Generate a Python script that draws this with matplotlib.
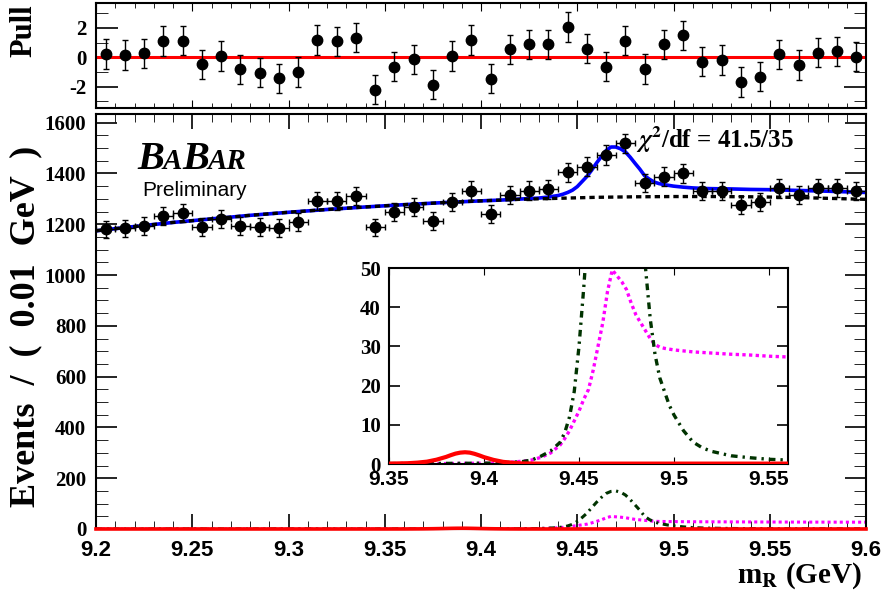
import numpy as np
import matplotlib
matplotlib.use("Agg")
import matplotlib.pyplot as plt
from matplotlib.ticker import MultipleLocator, FuncFormatter

plt.rcParams['axes.unicode_minus'] = False
plt.rcParams['mathtext.fontset'] = 'stix'
plt.rcParams['font.family'] = ['Liberation Serif', 'DejaVu Serif']
plt.rcParams['font.weight'] = 'bold'

# ---- data ----
bin_centers = np.round(np.arange(9.205, 9.6, 0.01), 3)
bin_half = 0.005

events = [1180, 1184, 1194, 1232, 1243, 1190, 1220, 1193, 1190, 1186,
          1208, 1291, 1292, 1311, 1188, 1247, 1269, 1214, 1288, 1332,
          1239, 1315, 1332, 1337, 1404, 1426, 1472, 1518, 1362, 1387,
          1400, 1330, 1330, 1275, 1288, 1341, 1315, 1343, 1343, 1330]

pulls = [0.23, 0.16, 0.27, 1.10, 1.13, -0.47, 0.09, -0.81, -1.04, -1.42,
         -0.99, 1.17, 1.08, 1.35, -2.20, -0.63, -0.13, -1.85, 0.09, 1.17,
         -1.46, 0.54, 0.88, 0.88, 2.07, 0.59, -0.63, 1.13, -0.79, 0.88,
         1.49, -0.29, -0.18, -1.67, -1.31, 0.20, -0.52, 0.32, 0.41, 0.05]

# background (black dashed)
bkg_x = [9.20, 9.22, 9.24, 9.26, 9.28, 9.30, 9.32, 9.34, 9.36, 9.38, 9.40,
         9.42, 9.44, 9.46, 9.48, 9.50, 9.52, 9.54, 9.56, 9.58, 9.60]
bkg_y = [1174, 1191, 1207, 1221, 1235, 1247, 1258, 1268, 1277, 1285, 1292,
         1298, 1302, 1306, 1308, 1309, 1309, 1308, 1306, 1302, 1298]

# total fit (blue)
fit_x = [9.20, 9.22, 9.24, 9.26, 9.28, 9.30, 9.32, 9.34, 9.36, 9.38, 9.40,
         9.41, 9.42, 9.425, 9.43, 9.435, 9.44, 9.4425, 9.445, 9.4475, 9.45,
         9.4525, 9.455, 9.4575, 9.46, 9.4625, 9.465, 9.4675, 9.47, 9.4725,
         9.475, 9.4775, 9.48, 9.4825, 9.485, 9.4875, 9.49, 9.4925, 9.495,
         9.4975, 9.50, 9.505, 9.51, 9.515, 9.52, 9.53, 9.54, 9.55, 9.56,
         9.58, 9.60]
fit_y = [1174, 1191, 1207, 1221, 1235, 1247, 1258, 1268, 1277, 1285, 1292,
         1295, 1299, 1301, 1303, 1307, 1313, 1318, 1325, 1334, 1348,
         1368, 1388, 1413, 1441, 1466, 1490, 1504, 1504, 1497,
         1485, 1464, 1440, 1417, 1391, 1377, 1366, 1360, 1356,
         1353, 1350, 1346, 1343, 1341, 1340, 1339, 1337, 1336, 1334,
         1330, 1325]

# dark green dash-dot component
green_x = [9.20, 9.30, 9.38, 9.40, 9.41, 9.42, 9.425, 9.43, 9.435, 9.44,
           9.4425, 9.445, 9.4475, 9.45, 9.4525, 9.455, 9.4575, 9.46, 9.4625,
           9.465, 9.4675, 9.47, 9.4725, 9.475, 9.4775, 9.48, 9.4825, 9.485,
           9.4875, 9.49, 9.4925, 9.495, 9.4975, 9.50, 9.505, 9.51, 9.515,
           9.52, 9.53, 9.54, 9.55, 9.56, 9.60]
green_y = [0.0, 0.05, 0.15, 0.2, 0.35, 0.6, 1.0, 2.0, 3.3, 5.5,
           8.0, 12.0, 18.5, 30.0, 45.0, 62.0, 84.0, 105.0, 124.0,
           140.0, 148.0, 150.0, 145.0, 134.0, 116.0, 95.0, 74.0, 50.0,
           37.0, 28.0, 22.0, 18.5, 15.0, 12.5, 8.5, 5.6, 4.1,
           3.2, 2.1, 1.6, 1.2, 1.0, 0.6]

# magenta dotted component
mag_x = [9.20, 9.30, 9.38, 9.40, 9.41, 9.42, 9.425, 9.43, 9.435, 9.44,
         9.4425, 9.445, 9.4475, 9.45, 9.4525, 9.455, 9.4575, 9.46, 9.4625,
         9.465, 9.4675, 9.47, 9.4725, 9.475, 9.4775, 9.48, 9.4825, 9.485,
         9.4875, 9.49, 9.4925, 9.495, 9.50, 9.51, 9.52, 9.53, 9.54, 9.55,
         9.56, 9.60]
mag_y = [0.0, 0.05, 0.1, 0.2, 0.3, 0.7, 1.0, 1.7, 2.8, 4.8,
         6.5, 8.5, 11.0, 13.5, 16.5, 19.0, 24.0, 30.0, 36.0,
         44.0, 49.5, 48.0, 46.5, 44.5, 41.0, 38.0, 36.0, 34.0,
         32.0, 30.5, 29.8, 29.5, 29.1, 28.6, 28.3, 28.0, 27.8, 27.5,
         27.3, 26.8]

# red solid component
red_x = [9.20, 9.35, 9.36, 9.365, 9.37, 9.375, 9.38, 9.3825, 9.385, 9.3875,
         9.39, 9.3925, 9.395, 9.3975, 9.40, 9.405, 9.41, 9.415, 9.42, 9.43,
         9.60]
red_y = [0.1, 0.1, 0.2, 0.35, 0.6, 1.1, 1.8, 2.25, 2.65, 2.9,
         3.0, 2.9, 2.6, 2.2, 1.75, 1.05, 0.55, 0.3, 0.15, 0.1,
         0.1]

W, H = 883, 600
fig = plt.figure(figsize=(W / 100, H / 100), dpi=100)


def px(x):
    return x / W


def py(y):
    return 1 - y / H


GREEN = '#003300'
MAGENTA = '#ff00ff'
fmt = FuncFormatter(lambda v, _: f"{v:g}")

# ---- pull panel ----
axp = fig.add_axes([px(96), py(108), px(866) - px(96), py(3) - py(108)])
axp.errorbar(bin_centers, pulls, yerr=1.0, fmt='o', color='black', ms=7.5,
             elinewidth=1, capsize=2.5, capthick=1, zorder=3)
axp.axhline(0, color='red', lw=2.2, zorder=2)
axp.set_xlim(9.2, 9.6)
axp.set_ylim(-3.45, 3.7)
axp.xaxis.set_major_locator(MultipleLocator(0.05))
axp.xaxis.set_minor_locator(MultipleLocator(0.01))
axp.yaxis.set_major_locator(MultipleLocator(2))
axp.yaxis.set_minor_locator(MultipleLocator(1))
axp.yaxis.set_major_formatter(fmt)
axp.tick_params(which='both', direction='in', top=True, right=True)
axp.tick_params(axis='x', which='major', length=6, labelbottom=False)
axp.tick_params(axis='x', which='minor', length=3.5)
axp.tick_params(axis='y', which='major', length=16, width=1.2, labelsize=15, pad=7)
axp.tick_params(axis='y', which='minor', length=8.5)
for s in axp.spines.values():
    s.set_linewidth(1.5)

# ---- main panel ----
ax = fig.add_axes([px(96), py(529), px(866) - px(96), py(114) - py(529)])
ax.plot(fit_x, fit_y, color='#0000ff', lw=2.6, zorder=2)
ax.plot(bkg_x, bkg_y, color='black', lw=2.4, dashes=(1.6, 1.2), zorder=3)
ax.plot(red_x, red_y, color='red', lw=2.6, zorder=3, clip_on=False)
ax.plot(mag_x, mag_y, color=MAGENTA, lw=2.2, dashes=(1.0, 1.0), zorder=2)
ax.plot(green_x, green_y, color=GREEN, lw=2.2, dashes=(2.0, 1.5, 0.7, 1.5), zorder=2)
ax.errorbar(bin_centers, events, xerr=bin_half, yerr=np.sqrt(events), fmt='o',
            color='black', ms=7.5, elinewidth=1, capsize=2.5, capthick=1, zorder=4)
ax.set_xlim(9.2, 9.6)
ax.set_ylim(0, 1634)
ax.xaxis.set_major_locator(MultipleLocator(0.05))
ax.xaxis.set_minor_locator(MultipleLocator(0.01))
ax.yaxis.set_major_locator(MultipleLocator(200))
ax.yaxis.set_minor_locator(MultipleLocator(50))
ax.xaxis.set_major_formatter(fmt)
ax.yaxis.set_major_formatter(fmt)
ax.tick_params(which='both', direction='in', top=True, right=True)
ax.tick_params(axis='x', which='major', length=11, width=1.2, labelsize=16, pad=8,
               labelfontfamily='Liberation Sans')
ax.tick_params(axis='x', which='minor', length=6)
ax.tick_params(axis='y', which='major', length=15, width=1.2, labelsize=15, pad=7)
ax.tick_params(axis='y', which='minor', length=8.5)
for s in ax.spines.values():
    s.set_linewidth(1.5)

# ---- inset ----
axi = fig.add_axes([px(389), py(464), px(788) - px(389), py(268) - py(464)])
axi.set_facecolor('white')
axi.plot(red_x, red_y, color='red', lw=3, zorder=3)
axi.plot(mag_x, mag_y, color=MAGENTA, lw=2.4, dashes=(1.0, 1.0), zorder=2)
axi.plot(green_x, green_y, color=GREEN, lw=2.4, dashes=(2.0, 1.5, 0.7, 1.5), zorder=2)
axi.set_xlim(9.35, 9.56)
axi.set_ylim(0, 50)
axi.set_xticks([9.35, 9.4, 9.45, 9.5, 9.55])
axi.yaxis.set_major_locator(MultipleLocator(10))
axi.xaxis.set_major_formatter(fmt)
axi.tick_params(which='both', direction='in', top=True, right=True)
axi.tick_params(axis='x', length=5, labelsize=15, pad=4.5,
                labelfontfamily='Liberation Sans')
axi.tick_params(axis='y', length=8, width=1.2, labelsize=15, pad=6)
for s in axi.spines.values():
    s.set_linewidth(1.5)

# ---- texts ----
fig.text(px(24), py(31), "Pull", rotation=90, ha='center', va='center', fontsize=22)
fig.text(px(26), py(326), "Events  /  (  0.01  GeV  )", rotation=90, ha='center',
         va='center', fontsize=26)
fig.text(px(862), py(583), r"m$_{\mathbf{R}}$ (GeV)", ha='right', va='baseline',
         fontsize=21)
fig.text(px(636), py(148), r"$\chi^{\mathbf{2}}$/df = 41.5/35", ha='left',
         va='baseline', fontsize=18)

logo = [("B", 29, 137), ("A", 21, 163), ("B", 29, 182), ("AR", 21, 208)]
for s, size, x in logo:
    fig.text(px(x), py(169), s, fontsize=size, style='italic', weight='bold',
             va='baseline', ha='left')
fig.text(px(142), py(196), "Preliminary", family='Liberation Sans',
         weight='normal', fontsize=15, va='baseline', ha='left')

fig.savefig("out.png", dpi=100)
